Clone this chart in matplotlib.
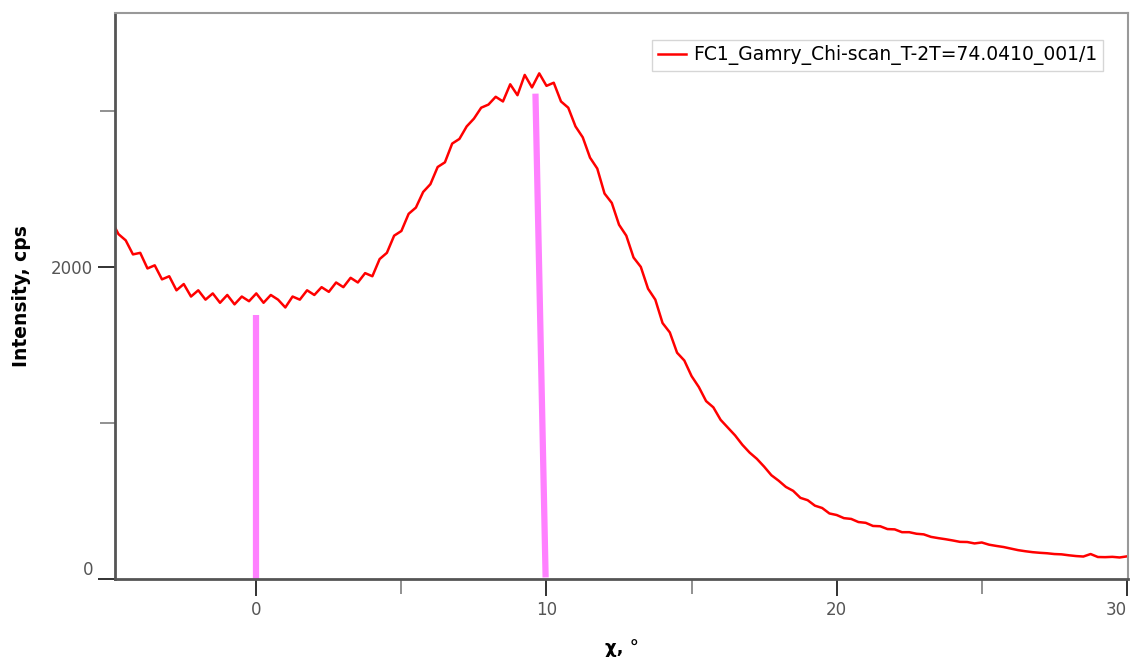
import numpy as np
import matplotlib.pyplot as plt

# chi scan, every 0.25 deg
chi = np.arange(-5, 30.001, 0.25)
intensity = [
    2300, 2210, 2170, 2080, 2090, 1990, 2010, 1920, 1940, 1850,
    1890, 1810, 1850, 1790, 1830, 1770, 1820, 1760, 1810, 1780,
    1830, 1770, 1820, 1790, 1740, 1810, 1790, 1850, 1820, 1870,
    1840, 1900, 1870, 1930, 1900, 1960, 1940, 2050, 2090, 2200,
    2230, 2340, 2380, 2480, 2530, 2640, 2670, 2790, 2820, 2900,
    2950, 3020, 3040, 3090, 3060, 3170, 3100, 3230, 3150, 3240,
    3160, 3180, 3060, 3020, 2900, 2830, 2700, 2630, 2470, 2410,
    2270, 2200, 2060, 2000, 1860, 1790, 1640, 1580, 1450, 1400,
    1300, 1230, 1140, 1100, 1020, 970, 920, 860, 810, 770,
    720, 665, 630, 590, 565, 520, 505, 470, 455, 420,
    410, 390, 385, 365, 360, 340, 338, 320, 318, 300,
    300, 290, 286, 270, 262, 255, 247, 238, 237, 228,
    234, 220, 212, 205, 195, 185, 178, 172, 168, 165,
    160, 158, 152, 147, 144, 160, 141, 140, 142, 138,
    145,
]
label = "FC1_Gamry_Chi-scan_T-2T=74.0410_001/1"

# the two pink marker lines (start x, end x), (start y, end y)
mark1_x = [0, 0]
mark1_y = [0, 1690]
mark2_x = [9.97, 9.62]
mark2_y = [10, 3110]

fig = plt.figure(figsize=(11.3, 6.64), dpi=100)
ax = fig.add_axes([0.102, 0.128, 0.896, 0.852])

ax.plot(chi, intensity, color='red', lw=1.8, label=label)
ax.plot(mark1_x, mark1_y, color='#ff80ff', lw=4.5, solid_capstyle='butt')
ax.plot(mark2_x, mark2_y, color='#ff80ff', lw=4.5, solid_capstyle='butt')

ax.set_xlim(-4.86, 30.03)
ax.set_ylim(0, 3625)

ax.set_xticks([0, 10, 20, 30])
ax.set_xticks([5, 15, 25], minor=True)
ax.set_yticks([0, 2000])
ax.set_yticks([1000, 3000], minor=True)

ax.tick_params(which='major', direction='out', length=12, width=1.3,
               color='#222222', labelcolor='#555555', labelsize=12, pad=4)
ax.tick_params(which='minor', direction='out', length=11, width=1.3,
               color='#888888')
ax.get_yticklabels()[0].set_va('bottom')
ax.get_xticklabels()[-1].set_ha('right')

for s in ['left', 'bottom']:
    ax.spines[s].set_color('#555555')
    ax.spines[s].set_linewidth(2)
for s in ['top', 'right']:
    ax.spines[s].set_color('#999999')
    ax.spines[s].set_linewidth(1.5)

ax.set_xlabel('χ, °', fontsize=13, fontweight='bold', labelpad=14)
ax.set_ylabel('Intensity, cps', fontsize=13.5, fontweight='bold', labelpad=14)

leg = ax.legend(loc='upper right', bbox_to_anchor=(0.985, 0.97),
                fontsize=13.5, handlelength=1.5, handletextpad=0.4,
                fancybox=False, borderpad=0.3)
leg.get_frame().set_edgecolor('#cccccc')
leg.get_frame().set_linewidth(1)

fig.savefig('out.png', dpi=100)
